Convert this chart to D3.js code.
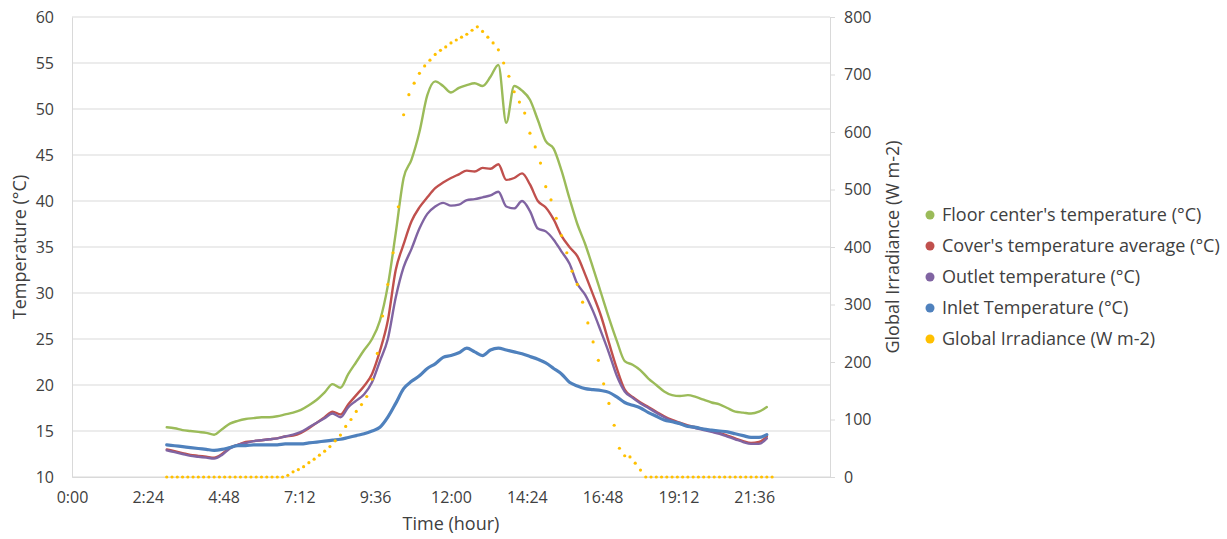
<!DOCTYPE html>
<html>
<head>
<meta charset="utf-8">
<script src="https://cdn.jsdelivr.net/npm/d3@7"></script>
<style>
  body { margin: 0; background: #fff; }
  svg text { font-family: "Open Sans", sans-serif; fill: #404040; }
</style>
</head>
<body>
<svg id="chart"></svg>
<script>
// sample times, minutes after midnight
const tempTimes = [180, 195, 210, 225, 240, 255, 270, 285, 300, 315, 330, 345, 360, 375, 390, 405, 420, 435, 450, 465,
  480, 495, 510, 525, 540, 555, 570, 585, 600, 615, 630, 645, 660, 675, 690, 705, 720, 735, 750, 765,
  780, 795, 810, 825, 840, 855, 870, 885, 900, 915, 930, 945, 960, 975, 990, 1005, 1020, 1035, 1050, 1065,
  1080, 1095, 1110, 1125, 1140, 1155, 1170, 1185, 1200, 1215, 1230, 1245, 1260, 1275, 1290, 1305, 1320];

const floorTemp = [15.4, 15.3, 15.1, 15.0, 14.9, 14.8, 14.6, 15.2, 15.8, 16.1, 16.3, 16.4, 16.5, 16.5, 16.6, 16.8,
  17.0, 17.3, 17.8, 18.4, 19.2, 20.1, 19.7, 21.2, 22.5, 23.8, 25.0, 27.0, 30.8, 36.5, 42.5, 44.5,
  47.5, 51.5, 53.0, 52.5, 51.8, 52.3, 52.6, 52.8, 52.5, 53.5, 54.8, 48.5, 52.5, 52.0, 51.0, 48.8,
  46.5, 45.7, 43.3, 40.3, 37.5, 35.3, 32.7, 30.0, 27.3, 24.8, 22.6, 22.2, 21.6, 20.7, 20.0, 19.3,
  18.9, 18.8, 18.9, 18.7, 18.4, 18.1, 17.9, 17.5, 17.1, 17.0, 16.9, 17.1, 17.6];

const coverTemp = [13.0, 12.8, 12.6, 12.4, 12.3, 12.2, 12.1, 12.5, 13.2, 13.5, 13.8, 13.9, 14.0, 14.1, 14.2, 14.4,
  14.5, 14.8, 15.3, 15.9, 16.5, 17.1, 16.8, 17.9, 18.9, 19.9, 21.2, 23.7, 27.0, 32.5, 35.3, 37.8,
  39.3, 40.4, 41.4, 42.0, 42.5, 42.9, 43.3, 43.2, 43.6, 43.5, 44.0, 42.3, 42.5, 43.0, 41.8, 40.0,
  39.3, 38.0, 36.2, 35.0, 34.0, 32.0, 29.8, 27.5, 24.6, 21.8, 19.5, 18.7, 18.1, 17.6, 17.1, 16.6,
  16.2, 15.9, 15.6, 15.4, 15.2, 15.0, 14.8, 14.5, 14.2, 13.9, 13.7, 13.8, 14.4];

const outletTemp = [12.9, 12.7, 12.5, 12.3, 12.2, 12.1, 12.0, 12.4, 13.1, 13.5, 13.7, 13.9, 14.0, 14.1, 14.2, 14.4,
  14.6, 14.9, 15.4, 15.9, 16.4, 16.9, 16.5, 17.6, 18.3, 19.0, 20.3, 22.6, 25.0, 29.5, 32.8, 34.8,
  37.0, 38.6, 39.4, 39.8, 39.5, 39.6, 40.1, 40.2, 40.4, 40.6, 41.0, 39.4, 39.2, 40.0, 38.9, 37.0,
  36.7, 35.8, 34.5, 33.2, 31.0, 29.8, 28.0, 25.8, 23.5, 21.0, 19.3, 18.6, 18.0, 17.5, 17.0, 16.5,
  16.1, 15.8, 15.5, 15.3, 15.1, 14.9, 14.7, 14.4, 14.1, 13.8, 13.6, 13.6, 14.2];

const inletTemp = [13.5, 13.4, 13.3, 13.2, 13.1, 13.0, 12.9, 13.0, 13.2, 13.4, 13.4, 13.5, 13.5, 13.5, 13.5, 13.6,
  13.6, 13.6, 13.7, 13.8, 13.9, 14.0, 14.1, 14.3, 14.5, 14.7, 15.0, 15.4, 16.5, 18.0, 19.6, 20.4,
  21.0, 21.8, 22.3, 23.0, 23.2, 23.5, 24.0, 23.6, 23.2, 23.8, 24.0, 23.8, 23.6, 23.4, 23.1, 22.8,
  22.4, 21.8, 21.2, 20.3, 19.9, 19.6, 19.5, 19.4, 19.2, 18.7, 18.1, 17.8, 17.5, 17.0, 16.6, 16.2,
  16.0, 15.8, 15.5, 15.4, 15.2, 15.1, 15.0, 14.9, 14.7, 14.5, 14.3, 14.3, 14.6];

const irrTimes = [180, 190, 200, 210, 220, 230, 240, 250, 260, 270, 280, 290, 300, 310, 320, 330, 340, 350, 360, 370,
  380, 390, 400, 410, 420, 430, 440, 450, 460, 470, 480, 490, 500, 510, 520, 530, 540, 550, 560, 570,
  580, 590, 600, 610, 620, 630, 640, 650, 660, 670, 680, 690, 700, 710, 720, 730, 740, 750, 760, 770,
  780, 790, 800, 810, 820, 830, 840, 850, 860, 870, 880, 890, 900, 910, 920, 930, 940, 950, 960, 970,
  980, 990, 1000, 1010, 1020, 1030, 1040, 1050, 1060, 1070, 1080, 1090, 1100, 1110, 1120, 1130, 1140, 1150, 1160, 1170,
  1180, 1190, 1200, 1210, 1220, 1230, 1240, 1250, 1260, 1270, 1280, 1290, 1300, 1310, 1320, 1330];

const irradiance = [0, 0, 0, 0, 0, 0, 0, 0, 0, 0, 0, 0, 0, 0, 0, 0, 0, 0, 0, 0,
  0, 0, 0, 3, 9, 13, 18, 25, 31, 38, 45, 53, 63, 73, 88, 100, 114, 126, 140, 170,
  215, 280, 335, 390, 470, 630, 665, 685, 702, 715, 725, 735, 742, 748, 755, 760, 765, 770, 777, 783,
  775, 765, 755, 743, 720, 697, 670, 652, 633, 598, 574, 546, 505, 482, 450, 420, 390, 358, 335, 304,
  268, 235, 203, 162, 128, 90, 50, 37, 35, 24, 12, 0, 0, 0, 0, 0, 0, 0, 0, 0,
  0, 0, 0, 0, 0, 0, 0, 0, 0, 0, 0, 0, 0, 0, 0, 0];

const xTickLabels = ["0:00", "2:24", "4:48", "7:12", "9:36", "12:00", "14:24", "16:48", "19:12", "21:36"];
const tempTicks = [10, 15, 20, 25, 30, 35, 40, 45, 50, 55, 60];
const irrTicks = [0, 100, 200, 300, 400, 500, 600, 700, 800];

const seriesNames = ["Floor center's temperature (°C)", "Cover's temperature average (°C)",
  "Outlet temperature (°C)", "Inlet Temperature (°C)", "Global Irradiance (W m-2)"];
const seriesColors = ["#9bbb59", "#c0504d", "#8064a2", "#4f81bd", "#ffc000"];

const width = 1227;
const height = 539;
const margin = { left: 72, right: 397, top: 17, bottom: 62 };

const svg = d3.select("#chart").attr("width", width).attr("height", height);

const x = d3.scaleLinear().domain([0, 1440]).range([margin.left, width - margin.right]);
const y = d3.scaleLinear().domain([10, 60]).range([height - margin.bottom, margin.top]);
const y2 = d3.scaleLinear().domain([0, 800]).range([height - margin.bottom, margin.top]);

// gridlines
svg.append("g")
  .selectAll("line")
  .data(tempTicks)
  .enter()
  .append("line")
  .attr("x1", x(0))
  .attr("x2", x(1440))
  .attr("y1", (d) => y(d))
  .attr("y2", (d) => y(d))
  .attr("stroke", "#d9d9d9")
  .attr("stroke-width", 1);

// left axis
const leftAxis = svg.append("g")
  .attr("transform", `translate(${x(0)},0)`)
  .call(d3.axisLeft(y).tickValues(tempTicks).tickSize(0).tickPadding(18));
leftAxis.select(".domain").attr("stroke", "#d9d9d9");
leftAxis.selectAll("text").style("font-size", "16px");

// right axis
const rightAxis = svg.append("g")
  .attr("transform", `translate(${x(1440)},0)`)
  .call(d3.axisRight(y2).tickValues(irrTicks).tickSize(5).tickPadding(9));
rightAxis.select(".domain").attr("stroke", "#d9d9d9");
rightAxis.selectAll(".tick line").attr("stroke", "#d9d9d9");
rightAxis.selectAll("text").style("font-size", "16px");

// bottom axis
const xTicks = xTickLabels.map((d, i) => i * 144);
const bottomAxis = svg.append("g")
  .attr("transform", `translate(0,${y(10)})`)
  .call(d3.axisBottom(x).tickValues(xTicks).tickSize(0).tickPadding(15)
    .tickFormat((d, i) => xTickLabels[i]));
bottomAxis.select(".domain").attr("stroke", "#d9d9d9");
bottomAxis.selectAll("text").style("font-size", "16px");

// axis titles
svg.append("text")
  .attr("x", x(720))
  .attr("y", 530)
  .attr("text-anchor", "middle")
  .style("font-size", "18px")
  .text("Time (hour)");

svg.append("text")
  .attr("transform", `translate(26,${y(35)}) rotate(-90)`)
  .attr("text-anchor", "middle")
  .style("font-size", "18px")
  .text("Temperature (°C)");

svg.append("text")
  .attr("transform", `translate(899,${y(35)}) rotate(-90)`)
  .attr("text-anchor", "middle")
  .style("font-size", "18px")
  .text("Global Irradiance (W m-2)");

// temperature series
const tempSeries = [floorTemp, coverTemp, outletTemp, inletTemp];
const line = d3.line()
  .x((d, i) => x(tempTimes[i]))
  .y((d) => y(d))
  .curve(d3.curveMonotoneX);

tempSeries.forEach((values, k) => {
  svg.append("path")
    .datum(values)
    .attr("d", line)
    .attr("fill", "none")
    .attr("stroke", seriesColors[k])
    .attr("stroke-width", k === 3 ? 3.2 : 2.4)
    .attr("stroke-linejoin", "round")
    .attr("stroke-linecap", "round");
});

// irradiance dots
svg.append("g")
  .selectAll("circle")
  .data(irradiance)
  .enter()
  .append("circle")
  .attr("cx", (d, i) => x(irrTimes[i]))
  .attr("cy", (d) => y2(d))
  .attr("r", 1.6)
  .attr("fill", seriesColors[4]);

// legend
const legend = svg.append("g")
  .selectAll("g")
  .data(seriesNames)
  .enter()
  .append("g")
  .attr("transform", (d, i) => `translate(930,${215 + i * 31})`);

legend.append("circle")
  .attr("r", 4.5)
  .attr("fill", (d, i) => seriesColors[i]);

legend.append("text")
  .attr("x", 12)
  .attr("dy", "0.35em")
  .style("font-size", "18px")
  .text((d) => d);
</script>
</body>
</html>
